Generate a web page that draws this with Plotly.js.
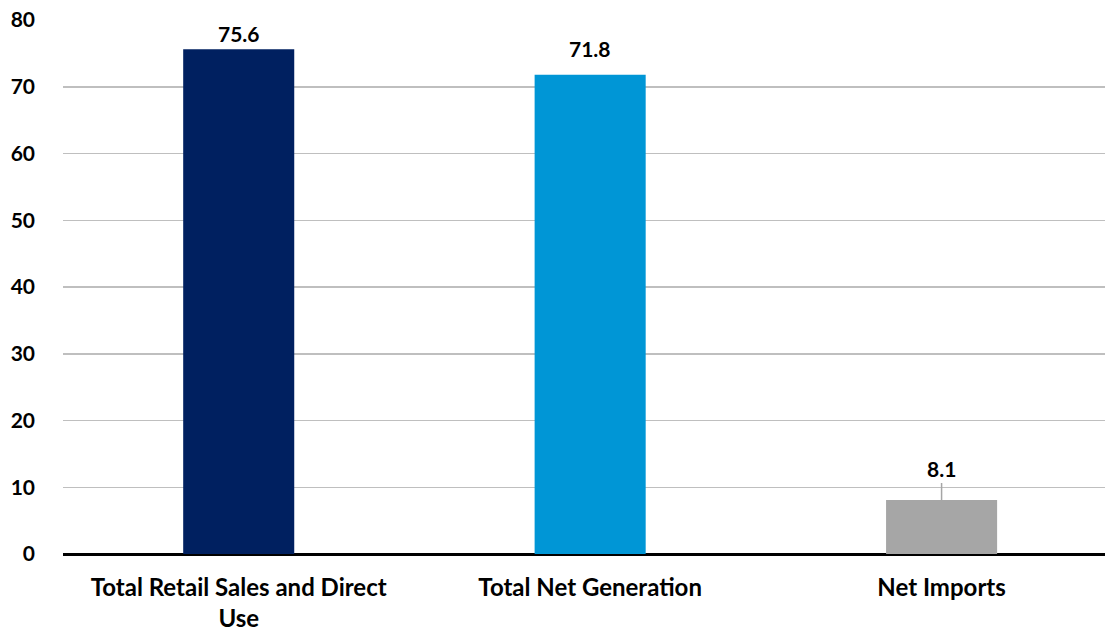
<!DOCTYPE html>
<html>
<head>
<meta charset="utf-8">
<script src="https://cdn.plot.ly/plotly-3.0.1.min.js"></script>
<style>html,body{margin:0;padding:0;background:#fff;}#chart{width:1105px;height:631px;}</style>
</head>
<body>
<div id="chart"></div>
<script>
const categories = ["Total Retail Sales and Direct<br>Use", "Total Net Generation", "Net Imports"];
const values = [75.6, 71.8, 8.1];
const barColors = ["#002060", "#0096D6", "#A6A6A6"];
const yTicks = [0, 10, 20, 30, 40, 50, 60, 70, 80];

// label placement (pixels above bar top); last label uses a leader line
const labelShift = [1, 12, 31];

const FONT = "Lato, 'Open Sans', 'Liberation Sans', sans-serif";

const trace = {
  type: "bar",
  x: categories,
  y: values,
  marker: {color: barColors},
  width: 0.316,
  hoverinfo: "none"
};

const annotations = values.map((v, i) => {
  const leader = i === values.length - 1;
  const a = {
    x: categories[i], y: v, xref: "x", yref: "y",
    text: v.toFixed(1),
    showarrow: leader,
    arrowhead: 0, arrowwidth: 1.5, arrowcolor: "#A6A6A6",
    ax: 0, ay: leader ? -labelShift[i] : 0,
    font: {family: FONT, size: 21, color: "#000", weight: "bold"}
  };
  if (!leader) { a.yanchor = "bottom"; a.yshift = labelShift[i]; }
  return a;
});

const layout = {
  width: 1105, height: 631,
  margin: {l: 63, r: 0, t: 20, b: 77},
  paper_bgcolor: "#fff", plot_bgcolor: "#fff",
  showlegend: false,
  xaxis: {
    type: "category",
    range: [-0.5, 2.465],
    showgrid: false, zeroline: false,
    showline: false, ticks: "",
    tickfont: {family: FONT, size: 24, color: "#000", weight: "bold"},
    ticklabelstandoff: 17
  },
  yaxis: {
    range: [0, 80],
    tickvals: yTicks,
    ticktext: yTicks.map(String),
    showgrid: true, gridcolor: "#BFBFBF", gridwidth: 1.5,
    zeroline: true, zerolinecolor: "#000", zerolinewidth: 3,
    showline: false, ticks: "",
    tickfont: {family: FONT, size: 21, color: "#000", weight: "bold"},
    ticklabelstandoff: 27
  },
  annotations: annotations
};

Plotly.newPlot("chart", [trace], layout, {displayModeBar: false, staticPlot: true});
</script>
</body>
</html>
